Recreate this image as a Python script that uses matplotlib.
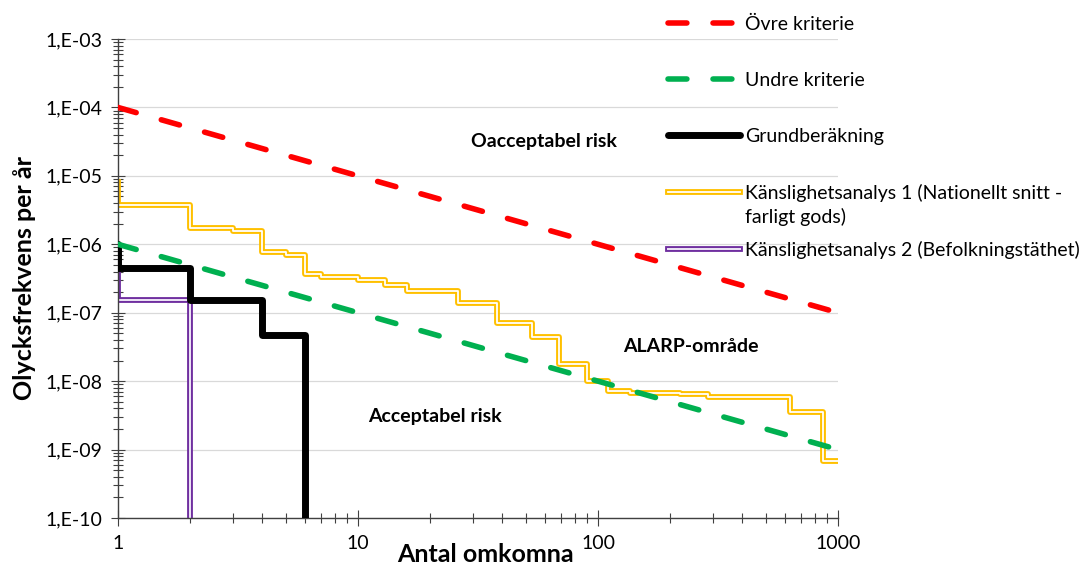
import numpy as np
import matplotlib
matplotlib.use("Agg")
import matplotlib.pyplot as plt
import matplotlib.patheffects as pe
from matplotlib.ticker import LogLocator, FuncFormatter, NullFormatter

plt.rcParams['font.family'] = ['Lato', 'DejaVu Sans']
plt.rcParams['lines.scale_dashes'] = False

# criteria lines
x_crit = [1, 1000]
upper = [1e-4, 1e-7]
lower = [1e-6, 1e-9]

# Grundberäkning (F-N steps)
n_base = [1, 1, 2, 4, 6]
f_base = [1.0e-6, 4.5e-7, 1.55e-7, 4.7e-8, 1e-11]

# Känslighetsanalys 1
n_s1 = [1, 1, 2, 3, 4, 5, 6, 7, 10, 13, 16, 26, 38, 53, 69, 90, 110, 136, 220, 288, 630, 870, 1000]
f_s1 = [8.2e-6, 3.7e-6, 1.75e-6, 1.58e-6, 7.8e-7, 6.97e-7, 3.68e-7, 3.29e-7, 3.0e-7, 2.54e-7,
        2.07e-7, 1.37e-7, 7.1e-8, 4.36e-8, 1.78e-8, 1.0e-8, 7.2e-9, 6.8e-9, 6.5e-9, 5.8e-9,
        3.58e-9, 6.8e-10, 6.8e-10]

# Känslighetsanalys 2
n_s2 = [1, 1, 2]
f_s2 = [4.5e-7, 1.55e-7, 1e-11]

labels = ['Övre kriterie', 'Undre kriterie', 'Grundberäkning',
          'Känslighetsanalys 1 (Nationellt snitt -', 'Känslighetsanalys 2 (Befolkningstäthet)']

fig = plt.figure(figsize=(10.86, 5.62), dpi=100)
ax = fig.add_axes([118/1086, 44/562, 720/1086, 479/562])

yellow_fx = [pe.Stroke(linewidth=4.2, foreground='#FFC000'), pe.Normal()]
purple_fx = [pe.Stroke(linewidth=4.2, foreground='#7030A0'), pe.Normal()]

l4, = ax.step(n_s1, f_s1, where='post', color='white', lw=1.3, path_effects=yellow_fx, zorder=2)
l5, = ax.step(n_s2, f_s2, where='post', color='#EEE6F6', lw=1.4, path_effects=purple_fx, zorder=2.1)
l3, = ax.step(n_base, f_base, where='post', color='black', lw=5.0,
              solid_joinstyle='round', solid_capstyle='round', zorder=3)
l2, = ax.plot(x_crit, lower, color='#00B050', lw=4.0, dashes=(13.6, 18.8),
              dash_capstyle='round', zorder=4)
l1, = ax.plot(x_crit, upper, color='#FF0000', lw=4.0, dashes=(13.6, 18.8),
              dash_capstyle='round', zorder=4)

ax.set_xscale('log')
ax.set_yscale('log')
ax.set_xlim(1, 1000)
ax.set_ylim(1e-10, 1e-3)

ax.yaxis.set_major_locator(LogLocator(base=10, numticks=20))
ax.yaxis.set_minor_locator(LogLocator(base=10, subs=np.arange(2, 10), numticks=20))
ax.xaxis.set_major_locator(LogLocator(base=10, numticks=20))
ax.xaxis.set_minor_locator(LogLocator(base=10, subs=np.arange(2, 10), numticks=20))
ax.yaxis.set_major_formatter(FuncFormatter(lambda v, p: "1,E-%02d" % int(round(-np.log10(v)))))
ax.xaxis.set_major_formatter(FuncFormatter(lambda v, p: "%d" % int(round(v))))
ax.xaxis.set_minor_formatter(NullFormatter())
ax.yaxis.set_minor_formatter(NullFormatter())

axis_col = '#404040'
for s in ['top', 'right']:
    ax.spines[s].set_visible(False)
for s in ['left', 'bottom']:
    ax.spines[s].set_color(axis_col)
    ax.spines[s].set_linewidth(1.0)

ax.tick_params(axis='y', which='major', direction='inout', length=10, width=0.8,
               color=axis_col, labelsize=14, pad=6.5)
ax.tick_params(axis='y', which='minor', direction='inout', length=7.5, width=0.8, color=axis_col)
ax.tick_params(axis='x', which='major', direction='inout', length=11, width=0.8,
               color=axis_col, labelsize=14, pad=7)
ax.tick_params(axis='x', which='minor', direction='inout', length=7, width=0.8, color=axis_col)

ax.yaxis.grid(True, which='major', color='#D9D9D9', lw=0.9)
ax.set_axisbelow(True)

ax.set_xlabel('Antal omkomna', fontsize=18, fontweight='bold')
ax.xaxis.set_label_coords(0.51, -0.052)
ax.set_ylabel('Olycksfrekvens per år', fontsize=18, fontweight='bold')
ax.yaxis.set_label_coords(-0.114, 0.5)

ax.text(0.592, 0.787, 'Oacceptabel risk', transform=ax.transAxes, ha='center', va='center',
        fontsize=14, fontweight='bold')
ax.text(0.796, 0.357, 'ALARP-område', transform=ax.transAxes, ha='center', va='center',
        fontsize=14, fontweight='bold')
ax.text(0.44, 0.211, 'Acceptabel risk', transform=ax.transAxes, ha='center', va='center',
        fontsize=14, fontweight='bold')

leg = ax.legend([l1, l2, l3, l4, l5], labels, loc='upper left',
                bbox_to_anchor=(668/1086, 1 - 16/562), bbox_transform=fig.transFigure,
                frameon=False, borderpad=0, borderaxespad=0, fontsize=14,
                handlelength=3.7, handletextpad=0.27, labelspacing=2.0)
fig.text(745/1086, 1 - 217/562, 'farligt gods)', fontsize=14, va='center', ha='left')

fig.savefig('out.png', dpi=100)
